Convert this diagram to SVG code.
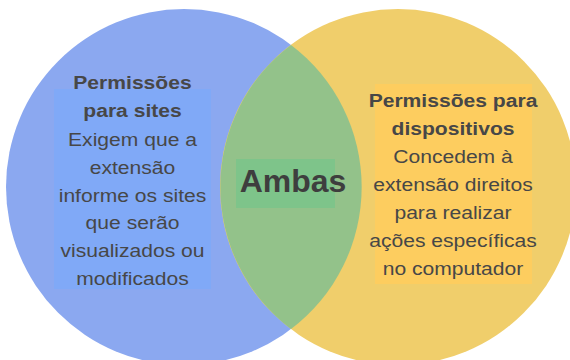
<svg xmlns="http://www.w3.org/2000/svg" width="570" height="360" viewBox="0 0 570 360">
<style>
.t{font-family:"Liberation Sans",Arial,sans-serif;font-size:18.5px;fill:#474747;text-anchor:middle}
.b{font-weight:bold}
.amb{font-family:"Liberation Sans",Arial,sans-serif;font-size:32px;font-weight:bold;fill:#3e3e3e;text-anchor:middle}
</style>
<rect width="570" height="360" fill="#ffffff"/>
<g id="sites">
<circle cx="184" cy="187" r="178" fill="#8BA8F0"/>
</g>
<g id="dispositivos">
<circle cx="398" cy="187" r="178" fill="#F0CE6B"/>
</g>
<g id="ambas">
<path d="M291,45 A178,178 0 0 1 291,329 A178,178 0 0 1 291,45 Z" fill="#93C28A"/>
<rect x="236" y="159" width="99" height="49" fill="#7EC48A"/>
<text class="amb" x="293" y="192">Ambas</text>
</g>
<g id="sites-text">
<rect x="54" y="89" width="157" height="200" fill="#80A9F7"/>
<g transform="translate(132.5,0) scale(1.14,1)">
<text class="t b" x="0" y="89">Permissões</text>
<text class="t b" x="0" y="117">para sites</text>
<text class="t" x="0" y="146">Exigem que a</text>
<text class="t" x="0" y="174">extensão</text>
<text class="t" x="0" y="202">informe os sites</text>
<text class="t" x="0" y="229">que serão</text>
<text class="t" x="0" y="257">visualizados ou</text>
<text class="t" x="0" y="285">modificados</text>
</g>
</g>
<g id="dispositivos-text">
<rect x="375" y="84" width="157" height="200" fill="#FDCD5F"/>
<g transform="translate(453,0) scale(1.14,1)">
<text class="t b" x="0" y="107">Permissões para</text>
<text class="t b" x="0" y="135">dispositivos</text>
<text class="t" x="0" y="163">Concedem à</text>
<text class="t" x="0" y="191">extensão direitos</text>
<text class="t" x="0" y="219">para realizar</text>
<text class="t" x="0" y="247">ações específicas</text>
<text class="t" x="0" y="275">no computador</text>
</g>
</g>
<g id="connectors"></g>
</svg>
